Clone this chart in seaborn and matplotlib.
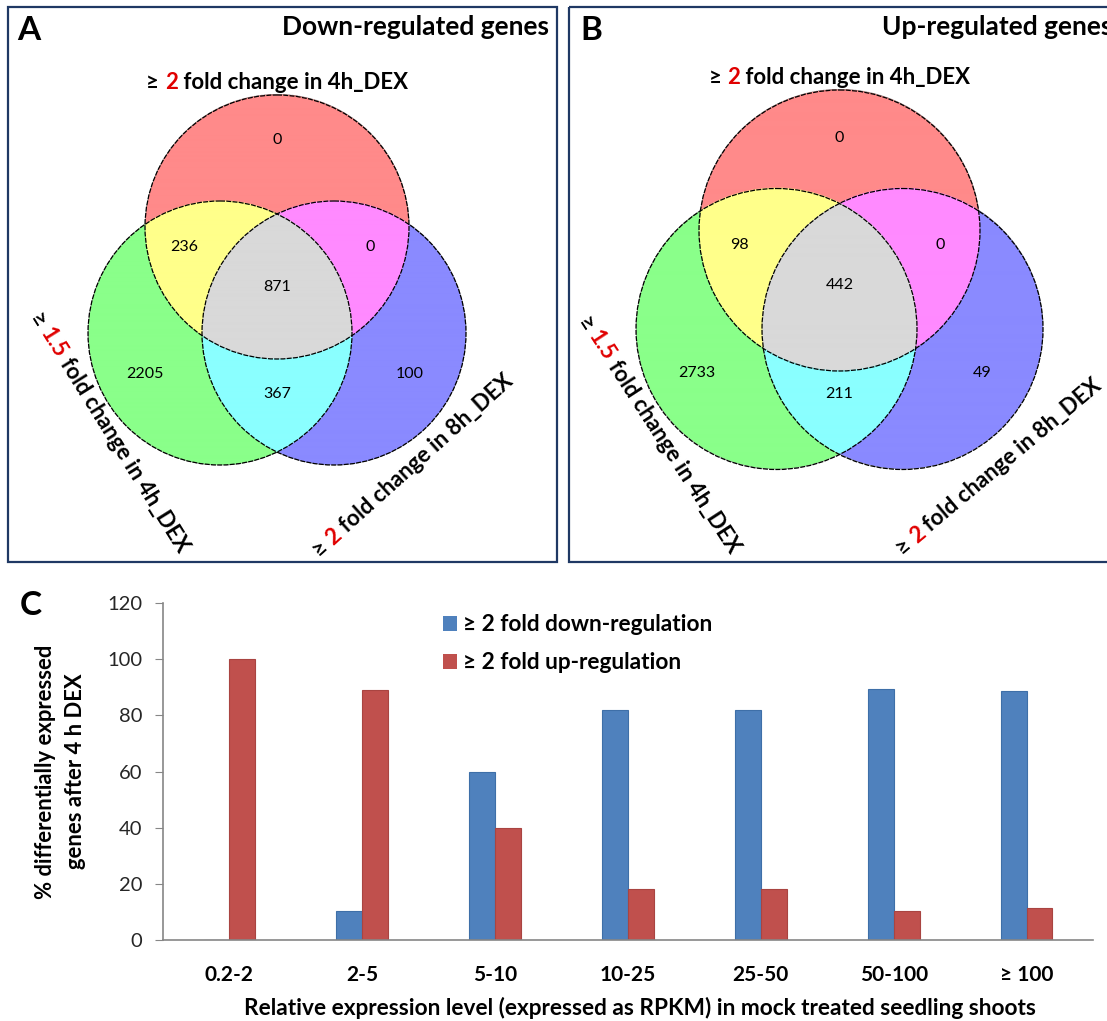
import numpy as np
import pandas as pd
import matplotlib
matplotlib.use('Agg')
import matplotlib.pyplot as plt
from matplotlib.patches import Circle, Rectangle
from matplotlib.colors import to_rgba
import seaborn as sns

# venn regions: 4h>=2 only, 4h>=1.5 only, 8h>=2 only, 4h2&4h1.5, 4h2&8h2, 4h1.5&8h2, all three
region_bits = [(1, 0, 0), (0, 1, 0), (0, 0, 1), (1, 1, 0), (1, 0, 1), (0, 1, 1), (1, 1, 1)]
down_counts = [0, 2205, 100, 236, 0, 367, 871]
up_counts = [0, 2733, 49, 98, 0, 211, 442]

set_top = [('≥ ', 'k'), ('2', 'red'), (' fold change in 4h_DEX', 'k')]
set_left = [('≥ ', 'k'), ('1.5', 'red'), (' fold change in 4h_DEX', 'k')]
set_right = [('≥ ', 'k'), ('2', 'red'), (' fold change in 8h_DEX', 'k')]

# bar chart
ranges = ['0.2-2', '2-5', '5-10', '10-25', '25-50', '50-100', '≥ 100']
down_pct = [0, 10.5, 60, 82, 82, 89.5, 88.5]
up_pct = [100, 89, 40, 18, 18, 10.5, 11.5]
series = ['≥ 2 fold down-regulation', '≥ 2 fold up-regulation']

region_colors = ['#FF8A8A', '#8AFF8A', '#8A8AFF', '#FFFF8A', '#FF8AFF', '#8AFFFF', '#D9D9D9']
# count label offset (in radii) from the mean of the member circle centres
label_offsets = [(0, -0.66), (-0.57, 0.31), (0.57, 0.31), (-0.49, -0.25), (0.49, -0.25),
                 (0, 0.46), (0, -0.08)]
red = '#E00000'
plt.rcParams['font.family'] = ['Lato', 'DejaVu Sans']

fig = plt.figure(figsize=(11.07, 10.21), dpi=100)
ax0 = fig.add_axes([0, 0, 1, 1])
ax0.set_xlim(0, 1107)
ax0.set_ylim(1021, 0)
ax0.axis('off')
rend = fig.canvas.get_renderer()


def text_width(s, size, weight):
    t = ax0.text(0, 0, s, fontsize=size, fontweight=weight)
    w = t.get_window_extent(rend).width
    t.remove()
    return w


def rich_text(cx, cy, parts, angle=0, size=16, weight='bold'):
    full = ''.join(p for p, _ in parts)
    total = text_width(full, size, weight)
    ref = text_width('x', size, weight)
    th = np.deg2rad(angle)
    dx, dy = np.cos(th), -np.sin(th)
    ux, uy = -np.sin(th), -np.cos(th)
    em = size * 100 / 72
    bx = cx - total / 2 * dx - 0.33 * em * ux
    by = cy - total / 2 * dy - 0.33 * em * uy
    pre = ''
    for s, c in parts:
        off = text_width(pre + 'x', size, weight) - ref if pre else 0
        col = red if c == 'red' else 'black'
        ax0.text(bx + off * dx, by + off * dy, s, color=col, rotation=angle,
                 rotation_mode='anchor', ha='left', va='baseline',
                 fontsize=size, fontweight=weight, zorder=5)
        pre += s


def venn(cx, cy_top, cy_low, d, r, counts):
    centers = np.array([(cx, cy_top), (cx - d, cy_low), (cx + d, cy_low)])
    x0, x1 = cx - d - r - 3, cx + d + r + 3
    y0, y1 = cy_top - r - 3, cy_low + r + 3
    xs = np.arange(x0, x1, 1 / 3)
    ys = np.arange(y0, y1, 1 / 3)
    X, Y = np.meshgrid(xs, ys)
    inside = [((X - a) ** 2 + (Y - b) ** 2) <= r ** 2 for a, b in centers]
    img = np.zeros(X.shape + (4,))
    for k, bits in enumerate(region_bits):
        m = (inside[0] == bool(bits[0])) & (inside[1] == bool(bits[1])) & (inside[2] == bool(bits[2]))
        img[m] = to_rgba(region_colors[k])
        base = centers[np.array(bits, dtype=bool)].mean(axis=0)
        ox, oy = label_offsets[k]
        ax0.text(base[0] + ox * r, base[1] + oy * r, str(counts[k]), ha='center', va='center',
                 fontsize=11.5, zorder=5)
    ax0.imshow(img, extent=(x0, x1, y1, y0), interpolation='antialiased', zorder=1, aspect='auto')
    for a, b in centers:
        ax0.add_patch(Circle((a, b), r, fill=False, ec='black', lw=0.9,
                             ls=(0, (4, 1)), zorder=3))


# panel A
ax0.add_patch(Rectangle((8, 7), 549, 555, fill=False, ec='#1F3864', lw=1.6, zorder=4))
ax0.text(29, 31, 'A', fontsize=24, fontweight='bold', ha='center', va='center')
ax0.text(549, 27, 'Down-regulated genes', fontsize=19, fontweight='bold', ha='right', va='center')
venn(277, 227, 333, 57, 132, down_counts)
rich_text(277, 82, set_top)
rich_text(110, 432, set_left, angle=-58)
rich_text(412, 465, set_right, angle=42)

# panel B
ax0.add_patch(Rectangle((569, 7), 551, 555, fill=False, ec='#1F3864', lw=1.6, zorder=4))
ax0.text(591, 31, 'B', fontsize=24, fontweight='bold', ha='center', va='center')
ax0.text(1112, 27, 'Up-regulated genes', fontsize=19, fontweight='bold', ha='right', va='center')
venn(839.5, 230.5, 329, 63, 140.5, up_counts)
rich_text(839.5, 77, set_top)
rich_text(660, 434, set_left, angle=-57)
rich_text(998, 466, set_right, angle=40)

# panel C
ax0.text(31, 605, 'C', fontsize=24, fontweight='bold', ha='center', va='center')
df = pd.DataFrame({
    'range': ranges * 2,
    'pct': down_pct + up_pct,
    'series': [series[0]] * len(ranges) + [series[1]] * len(ranges),
})
ax = fig.add_axes([163 / 1107, 1 - 940 / 1021, 930 / 1107, 337 / 1021])
ax.set_facecolor('none')
sns.barplot(data=df, x='range', y='pct', hue='series', palette=['#4F81BD', '#C0504D'],
            width=0.39, gap=0, saturation=1, ax=ax)
for cont, ec in zip(ax.containers, ['#3E6FA8', '#A94441']):
    for bar in cont:
        bar.set_edgecolor(ec)
        bar.set_linewidth(0.8)
ax.set_xlim(-0.5, 6.5)
ax.set_ylim(0, 120)
ax.set_yticks(range(0, 121, 20))
sns.despine(ax=ax)
for sp in ['left', 'bottom']:
    ax.spines[sp].set_color('#868686')
    ax.spines[sp].set_linewidth(1.2)
ax.tick_params(axis='y', length=6, color='#868686', labelsize=14.5, labelcolor='#262626', pad=9)
ax.tick_params(axis='x', length=0, labelsize=15, pad=18)
for lab in ax.get_xticklabels():
    lab.set_fontweight('bold')
ax.set_xlabel('Relative expression level (expressed as RPKM) in mock treated seedling shoots',
              fontsize=16.3, fontweight='bold')
ax.xaxis.set_label_coords(0.513, -0.168)
ax.set_ylabel('% differentially expressed\ngenes after 4 h DEX', fontsize=15.8,
              fontweight='bold', linespacing=1.5)
ax.yaxis.set_label_coords(-0.083, 0.5)
handles, labels = ax.get_legend_handles_labels()
ax.legend(handles, labels, loc='upper left', bbox_to_anchor=(0.301, 0.966), frameon=False,
          borderpad=0, borderaxespad=0, handlelength=0.6, handleheight=0.6,
          handletextpad=0.3, labelspacing=0.75, prop={'size': 16.3, 'weight': 'bold'})

fig.savefig('out.png', dpi=100)
